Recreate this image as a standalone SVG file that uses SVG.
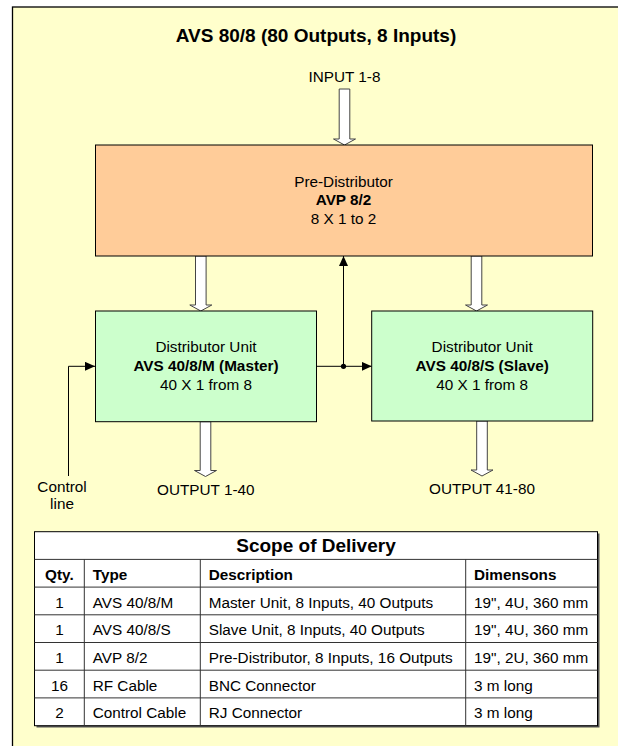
<svg xmlns="http://www.w3.org/2000/svg" width="618" height="746" viewBox="0 0 618 746">
<defs>
<marker id="ah" markerWidth="10" markerHeight="9" refX="10" refY="4.5" orient="auto" markerUnits="userSpaceOnUse">
<path d="M0,0 L10,4.5 L0,9 Z" fill="#000"/>
</marker>
<style>
text{font-family:"Liberation Sans",Arial,sans-serif;font-size:15.3px;fill:#000}
.c{text-anchor:middle}
.b{font-weight:bold}
.t{font-weight:bold;font-size:19px}
.box{stroke:#000;stroke-width:1}
.hol{fill:#fff;stroke:#444;stroke-width:1}
.ln{fill:none;stroke:#000;stroke-width:1}
.grid{stroke:#333;stroke-width:1}
</style>
</defs>
<rect x="0" y="0" width="618" height="746" fill="#fff"/>
<rect x="12.5" y="7" width="620" height="750" fill="#FFFFCC" stroke="#000" stroke-width="1.3"/>
<text class="t c" x="316" y="41.7">AVS 80/8 (80 Outputs, 8 Inputs)</text>
<text class="c" x="344.5" y="81.7">INPUT 1-8</text>

<g id="connectors">
<path class="hol" d="M339.2,89 H349.8 V139 H355.5 L344.5,145 L333.5,139 H339.2 Z"/>
<path class="hol" d="M195.5,256 H206.1 V305 H211.8 L200.8,311 L189.8,305 H195.5 Z"/>
<path class="hol" d="M471.2,256 H481.8 V305 H487.5 L476.5,311 L465.5,305 H471.2 Z"/>
<path class="hol" d="M200.2,421.7 H210.8 V470.5 H216.5 L205.5,476.5 L194.5,470.5 H200.2 Z"/>
<path class="hol" d="M476.7,421 H487.3 V470 H493 L482,476 L471,470 H476.7 Z"/>
<path class="ln" d="M68.5,476 V366.3 H95" marker-end="url(#ah)"/>
<path class="ln" d="M316.7,366.3 H371.7" marker-end="url(#ah)"/>
<path class="ln" d="M343.5,366.3 V256" marker-end="url(#ah)"/>
<circle cx="343.5" cy="366.3" r="2.6" fill="#000"/>
</g>

<g id="pre-distributor">
<rect class="box" x="95.5" y="145" width="497" height="111" fill="#FFCC99"/>
<text class="c" x="343.5" y="186.7">Pre-Distributor</text>
<text class="c b" x="343.5" y="205">AVP 8/2</text>
<text class="c" x="343.5" y="224">8 X 1 to 2</text>
</g>

<g id="master">
<rect class="box" x="95.5" y="311" width="221" height="110.7" fill="#CCFFCC"/>
<text class="c" x="206" y="352.3">Distributor Unit</text>
<text class="c b" x="206" y="371">AVS 40/8/M (Master)</text>
<text class="c" x="206" y="390">40 X 1 from 8</text>
</g>

<g id="slave">
<rect class="box" x="371.7" y="311" width="221" height="110" fill="#CCFFCC"/>
<text class="c" x="482.2" y="352.3">Distributor Unit</text>
<text class="c b" x="482.2" y="371">AVS 40/8/S (Slave)</text>
<text class="c" x="482.2" y="390">40 X 1 from 8</text>
</g>

<g id="labels">
<text class="c" x="62" y="491.7">Control</text>
<text class="c" x="62" y="509.3">line</text>
<text class="c" x="205.8" y="495">OUTPUT 1-40</text>
<text class="c" x="482" y="494">OUTPUT 41-80</text>
</g>

<g id="table">
<rect x="36.5" y="533.5" width="563" height="194" fill="#555"/>
<rect x="34.5" y="531.7" width="563" height="194" fill="#fff" stroke="#000" stroke-width="1"/>
<g class="grid">
<line x1="34.5" y1="559.4" x2="597.5" y2="559.4"/>
<line x1="34.5" y1="587.1" x2="597.5" y2="587.1"/>
<line x1="34.5" y1="614.8" x2="597.5" y2="614.8"/>
<line x1="34.5" y1="642.5" x2="597.5" y2="642.5"/>
<line x1="34.5" y1="670.2" x2="597.5" y2="670.2"/>
<line x1="34.5" y1="697.9" x2="597.5" y2="697.9"/>
<line x1="84.3" y1="559.4" x2="84.3" y2="725.7"/>
<line x1="200.3" y1="559.4" x2="200.3" y2="725.7"/>
<line x1="465.7" y1="559.4" x2="465.7" y2="725.7"/>
</g>
<text class="t c" x="316" y="551.7">Scope of Delivery</text>
<text class="b c" x="59.4" y="580">Qty.</text>
<text class="b" x="92.7" y="580">Type</text>
<text class="b" x="208.7" y="580">Description</text>
<text class="b" x="474" y="580">Dimensons</text>

<text class="c" x="59.4" y="607.5">1</text>
<text x="92.7" y="607.5">AVS 40/8/M</text>
<text x="208.7" y="607.5">Master Unit, 8 Inputs, 40 Outputs</text>
<text x="474" y="607.5">19", 4U, 360 mm</text>

<text class="c" x="59.4" y="635.2">1</text>
<text x="92.7" y="635.2">AVS 40/8/S</text>
<text x="208.7" y="635.2">Slave Unit, 8 Inputs, 40 Outputs</text>
<text x="474" y="635.2">19", 4U, 360 mm</text>

<text class="c" x="59.4" y="662.9">1</text>
<text x="92.7" y="662.9">AVP 8/2</text>
<text x="208.7" y="662.9">Pre-Distributor, 8 Inputs, 16 Outputs</text>
<text x="474" y="662.9">19", 2U, 360 mm</text>

<text class="c" x="59.4" y="690.6">16</text>
<text x="92.7" y="690.6">RF Cable</text>
<text x="208.7" y="690.6">BNC Connector</text>
<text x="474" y="690.6">3 m long</text>

<text class="c" x="59.4" y="718.3">2</text>
<text x="92.7" y="718.3">Control Cable</text>
<text x="208.7" y="718.3">RJ Connector</text>
<text x="474" y="718.3">3 m long</text>
</g>
</svg>
